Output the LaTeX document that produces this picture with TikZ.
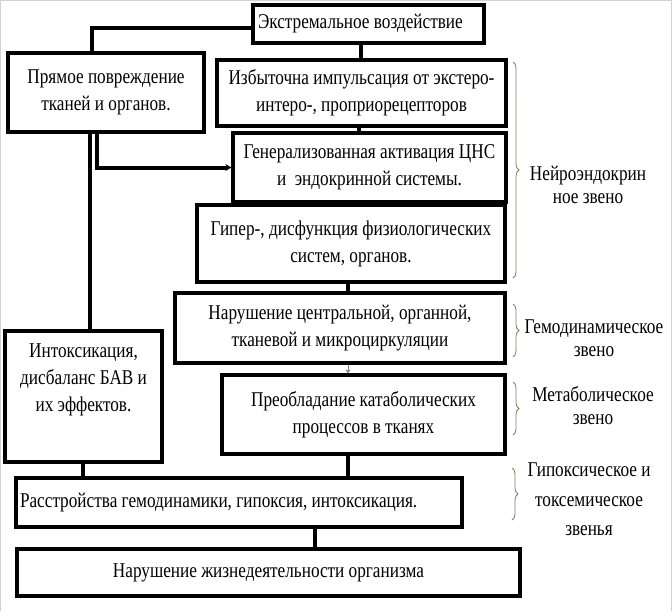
\documentclass[tikz,border=0pt]{standalone}
\usepackage{fontspec}
\setmainfont{Liberation Serif}[FakeStretch=0.82]
\usepackage{tikz}
\usetikzlibrary{arrows.meta,decorations.pathreplacing}

\begin{document}
\begin{tikzpicture}[x=1pt,y=-1pt,
  block/.style={draw, line width=3.3pt, inner sep=0pt, align=center,
    font=\fontsize{21}{27}\selectfont},
  conn/.style={line width=4pt},
  tag/.style={align=center, font=\fontsize{21}{23}\selectfont},
  curly/.style={draw=black!60!olive!70, line width=0.8pt,
    decorate, decoration={brace, amplitude=6pt}}]

\useasboundingbox (0,0) rectangle (672,611);
\draw[gray!35] (0.5,611) -- (0.5,0.5) -- (671.3,0.5) -- (671.3,611);

% blocks
\node[block, minimum width=231, minimum height=38] (extreme) at (368.5,24) {\makebox[221pt][l]{Экстремальное воздействие}};
\node[block, minimum width=196, minimum height=79] (direct) at (106,92.5) {Прямое повреждение\\ тканей и органов.};
\node[block, minimum width=289, minimum height=66] (impulse) at (361.5,93) {Избыточна импульсация от экстеро-\\ интеро-, проприорецепторов};
\node[block, minimum width=273, minimum height=69] (activ) at (369.5,167.5) {Генерализованная активация ЦНС\\ и\ \ эндокринной системы.};
\node[block, minimum width=308, minimum height=77] (hyper) at (351,243.5) {Гипер-, дисфункция физиологических\\ систем, органов.};
\node[block, minimum width=330, minimum height=70] (hemo) at (340,328) {Нарушение центральной, органной,\\ тканевой и микроциркуляции};
\node[block, minimum width=157, minimum height=131] (intox) at (83.5,396.5) {Интоксикация,\\ дисбаланс БАВ и\\ их эффектов.\\[10pt]};
\node[block, minimum width=283, minimum height=79] (catab) at (363.5,414.5) {Преобладание катаболических\\ процессов в тканях};
\node[block, minimum width=446, minimum height=49] (disorder) at (239,502.5) {\makebox[438pt][l]{Расстройства гемодинамики, гипоксия, интоксикация.}};
\node[block, minimum width=503, minimum height=47] (failure) at (268.5,572.5) {Нарушение жизнедеятельности организма};

% links
\draw[conn] ([yshift=-4pt]extreme.west) -| ([xshift=-14pt]direct.north);
\draw[conn] ([xshift=-8pt]extreme.south) -- ([xshift=-8pt]extreme.south |- impulse.north);
\draw[conn] ([xshift=-3pt]impulse.south) -- ([xshift=-3pt]impulse.south |- activ.north);
\draw[conn] ([xshift=-15pt]activ.south) -- ([xshift=-15pt]activ.south |- hyper.north);
\draw[conn] ([xshift=-3pt]hyper.south) -- ([xshift=-3pt]hyper.south |- hemo.north);
\draw[gray, line width=1pt, -{Stealth[length=4pt,width=5pt]}] ([xshift=8pt]hemo.south) -- ([xshift=8pt]hemo.south |- catab.north);
\draw[conn] ([xshift=-16pt]catab.south) -- ([xshift=-16pt]catab.south |- disorder.north);
\draw[conn] ([xshift=-16pt]direct.south) -- ([xshift=-16pt]direct.south |- intox.north);
\draw[conn, -{Stealth[length=6pt,width=7pt]}] ([xshift=-9pt]direct.south) |- (activ.west);
\draw[conn] ([xshift=-1pt]intox.south) -- ([xshift=-1pt]intox.south |- disorder.north);
\draw[conn] ([xshift=76pt]disorder.south) -- ([xshift=76pt]disorder.south |- failure.north);

% braces
\draw[curly] (513,62) -- (513,278);
\draw[curly] (513,304) -- (513,357);
\draw[curly] (513,382) -- (513,435);
\draw[curly] (512,468) -- (512,520);

\node[tag] (neuro) at (588,185) {Нейроэндокрин\\ ное звено};
\node[tag] (hemolab) at (594,338.5) {Гемодинамическое\\ звено};
\node[tag] (metab) at (593,406) {Метаболическое\\ звено};
\node[tag, font=\fontsize{21}{29.5}\selectfont] (hypox) at (589,499.5) {Гипоксическое и\\ токсемическое\\ звенья};

\end{tikzpicture}
\end{document}
